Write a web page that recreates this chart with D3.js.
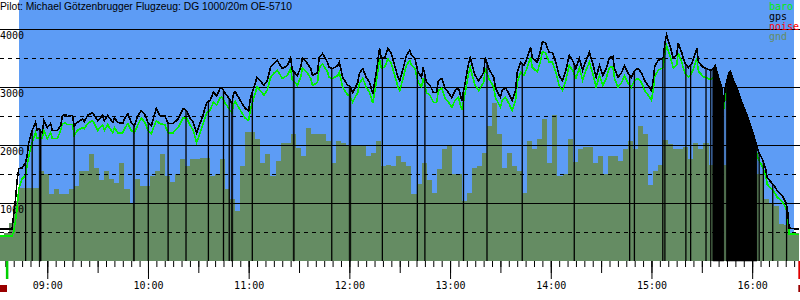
<!DOCTYPE html>
<html>
<head>
<meta charset="utf-8">
<script src="https://cdn.jsdelivr.net/npm/d3@7/dist/d3.min.js"></script>
<style>
  body { margin: 0; background: #fff; }
  svg { display: block; }
</style>
</head>
<body>
<div id="chart"></div>
<script>
// barogramm - Pilot / Flugzeug
const titel = 'Pilot: Michael Götzenbrugger Flugzeug: DG 1000/20m OE-5710';
const legende = ['baro', 'gps', 'noise', 'gnd'];

// zeitbereich des logs, flug (himmel) und marker
const logStart = '08:31:50', logEnde = '16:28:30';
const flugStart = '08:43:10', flugEnde = '16:24:55';
const startMarke = '08:35:20', endMarke = '16:27:30';

// y achse (m)
const hoehenLinien = [500, 1000, 1500, 2000, 2500, 3000, 3500, 4000];
const hoehenLabels = [1000, 2000, 3000, 4000];

// gps fixe
const gpsZeit = ['08:32','08:39','08:40','08:41','08:42','08:43','08:45','08:47','08:48','08:49','08:51','08:53','08:54','08:55','08:57','08:58',
  '09:00','09:02','09:03','09:06','09:08','09:09','09:11','09:12','09:15','09:16','09:18','09:21','09:22','09:24','09:27','09:28','09:30','09:33','09:34','09:36','09:39','09:40','09:42','09:45','09:46','09:48','09:50','09:52','09:54','09:56','09:58',
  '10:00','10:02','10:04','10:05','10:07','10:10','10:12','10:15','10:18','10:21','10:23','10:25','10:27','10:29','10:31','10:33','10:35','10:37','10:39','10:41','10:43','10:44','10:46','10:48','10:50','10:51','10:52','10:54','10:56','10:58',
  '11:00','11:01','11:03','11:05','11:07','11:09','11:11','11:13','11:15','11:17','11:19','11:20','11:23','11:25','11:26','11:29','11:31','11:32','11:35','11:37','11:38','11:41','11:42','11:44','11:47','11:48','11:50','11:53','11:54','11:56','11:59',
  '12:00','12:02','12:05','12:06','12:08','12:10','12:12','12:14','12:16','12:18','12:19','12:21','12:23','12:25','12:27','12:29','12:30','12:32','12:34','12:36','12:37','12:39','12:41','12:43','12:44','12:46','12:48','12:50','12:52','12:53','12:55','12:57','12:59',
  '13:01','13:03','13:05','13:07','13:09','13:11','13:12','13:14','13:15','13:17','13:20','13:21','13:23','13:26','13:27','13:30','13:31','13:33','13:35','13:37','13:39','13:40','13:42','13:44','13:46','13:48','13:49','13:52','13:54','13:55','13:57','13:59',
  '14:01','14:03','14:05','14:07','14:09','14:11','14:13','14:15','14:17','14:19','14:21','14:23','14:25','14:27','14:29','14:31','14:33','14:35','14:37','14:38','14:40','14:42','14:44','14:46','14:48','14:50','14:52','14:54','14:56','14:58',
  '15:00','15:01','15:02','15:04','15:07','15:08','15:09','15:11','15:13','15:15','15:16','15:18','15:20','15:22','15:24','15:26','15:27','15:28','15:31','15:33','15:35','15:37','15:38','15:40','15:42','15:43','15:44','15:46','15:47','15:49','15:51','15:53','15:55','15:57','15:59',
  '16:01','16:03','16:04','16:06','16:08','16:09','16:12','16:14','16:15','16:18','16:20','16:21','16:22','16:28'];
const gpsHoehe = [540,540,800,1030,1380,1590,1600,1690,1810,2040,2250,2390,2250,2280,2210,2420,
  2300,2370,2250,2250,2330,2510,2520,2490,2510,2330,2390,2450,2400,2510,2560,2510,2420,2510,2420,2510,2390,2470,2390,2370,2450,2540,2390,2330,2510,2590,2540,
  2390,2330,2540,2630,2510,2510,2370,2370,2450,2630,2590,2470,2390,2210,2370,2540,2730,2770,2910,2850,2980,2990,2890,2820,2720,2890,2920,2820,2720,2630,
  2590,2800,2990,3170,3110,3030,3110,3340,3410,3460,3370,3320,3370,3500,3290,3200,3340,3510,3410,3320,3200,3250,3510,3580,3430,3340,3320,3370,3430,3170,3030,
  3030,2910,3080,3240,3320,3170,3080,2890,3250,3670,3500,3510,3670,3580,3370,3170,3110,3320,3550,3640,3550,3500,3250,3170,3340,3080,3030,2910,2910,3110,3150,2980,2910,
  2820,2940,2990,2770,3080,3410,3510,3290,3200,3110,3250,3510,3320,3170,2990,2820,2940,2990,2890,2770,2940,3250,3430,3370,3510,3690,3510,3430,3640,3790,3760,3600,
  3600,3430,3200,3110,3290,3550,3460,3320,3500,3290,3460,3600,3410,3170,3370,3200,3320,3510,3530,3320,3170,3240,3370,3240,3170,3290,3320,3250,3110,3030,
  2940,3110,3370,3460,3510,3760,3900,3720,3500,3550,3760,3600,3410,3340,3410,3580,3670,3430,3340,3320,3290,3320,3370,3170,2980,2730,2990,3240,3270,3110,2980,2800,2650,2510,2330,
  2160,1950,1860,1760,1590,1430,1330,1260,1200,1120,1000,890,560,540];
// baro hoehe zu denselben zeiten
const baroHoehe = [420,420,500,680,890,1240,1410,1470,1640,1810,2040,2210,2110,2130,2120,2250,
  2110,2210,2110,2110,2250,2370,2380,2350,2350,2160,2250,2300,2280,2370,2420,2370,2250,2350,2250,2350,2210,2300,2210,2210,2280,2370,2250,2210,2350,2460,2400,
  2250,2190,2350,2420,2370,2350,2210,2210,2300,2470,2460,2350,2250,2040,2210,2380,2560,2600,2740,2690,2820,2830,2720,2640,2550,2710,2750,2650,2550,2460,
  2420,2610,2810,3000,2940,2860,2940,3160,3240,3290,3200,3150,3200,3320,3130,3030,3170,3330,3240,3150,3030,3080,3330,3400,3260,3170,3150,3200,3260,3000,2860,
  2860,2740,2910,3070,3150,3000,2910,2720,3080,3480,3330,3340,3490,3410,3200,3000,2940,3150,3380,3460,3380,3330,3080,3000,3160,2900,2860,2740,2730,2940,2980,2810,2740,
  2650,2770,2820,2600,2900,3230,3340,3120,3030,2940,3080,3330,3150,3000,2820,2650,2770,2820,2720,2600,2760,3070,3260,3200,3340,3510,3340,3260,3460,3610,3590,3430,
  3430,3260,3030,2940,3120,3380,3290,3150,3330,3120,3290,3430,3240,3000,3200,3030,3150,3340,3360,3150,3000,3070,3200,3070,3000,3120,3150,3080,2940,2860,
  2770,2940,3190,3290,3340,3580,3720,3550,3330,3380,3590,3430,3240,3170,3240,3410,3500,3270,3180,3160,3130,3160,3210,3010,2820,2620,2840,3090,3120,2970,2840,2660,2510,2370,2200,
  2030,1820,1730,1630,1470,1320,1220,1150,1090,1020,910,800,460,450];

// gelaende unter dem flugweg, alle 3 min ab gndStart
const gndStart = '08:31';
const gndSchritt = 3;
const gndHoehe = [420,470,650,1030,1260,1260,1260,1260,1550,1500,1150,1240,1150,1150,1240,1290,1550,1550,1850,1600,
  1400,1550,1410,1340,1690,1240,1000,1410,1290,1290,1470,1550,1850,1470,1350,1500,1760,1640,1760,1760,
  1780,1780,1470,1500,1760,1240,1070,850,1640,2230,2230,2110,1690,1850,1470,1730,2040,2040,2190,1950,
  1810,2300,2190,2190,2190,2070,1690,2060,2040,1980,1990,1990,1990,1800,1860,2070,1640,1660,1640,1810,
  1700,1640,1150,1320,1690,1400,1170,1590,1930,1990,1500,1500,1030,1170,1600,1640,1860,2330,2730,2190,
  1600,1860,1640,1550,1170,2070,1930,2110,2450,1680,2510,1470,1500,2110,1700,1930,1960,1960,1690,1810,
  1500,1810,1810,1730,1930,2060,1930,2330,2190,1300,1550,1650,2090,2020,1930,1930,1960,1760,2040,1930,
  2040,1660,1660,1660,1660,1600,1550,1500,1450,1400,1500,1500,1070,1000,940,630,610,480,480];

// senkrechte marken bis zur gps linie
const markenZeit = ['08:47:06','08:51:00','09:16:00','10:00:10','10:12:00','10:22:40','10:36:00','10:45:00','10:48:25','11:02:10',
  '11:49:30','12:19:40','12:40:30','12:45:00','13:08:00','13:22:00','13:43:00','14:14:00','14:47:00','14:49:50',
  '15:06:45','15:08:00','15:20:30','15:23:20','15:32:30','15:35:20','16:04:10','16:06:40','16:12:15','16:20:30'];
const markenVon = ['08:55:15','09:51:20','10:49:40','11:26:35','11:59:55','15:36:30','15:44:30'];
const markenBis = ['08:56:20','09:51:55','10:50:30','11:27:10','12:00:50','15:43:10','16:02:50'];

/////////////////////////////
const width = 800, height = 300;
const unten = 261; // unterkante diagramm
const himmel = '#5d9cf5';
const gndFarbe = '#658c63';
const baroFarbe = '#00f000';

const parseT = s => d3.timeParse(s.length > 5 ? '%H:%M:%S' : '%H:%M')(s);

const x = d3.scaleTime()
  .domain([parseT(logStart), parseT(logEnde)])
  .range([0, width]);
const y = d3.scaleLinear()
  .domain([0, 4500])
  .range([260.5, 0.4]);

const gps = gpsZeit.map((t, i) => ({t: parseT(t), alt: gpsHoehe[i], baro: baroHoehe[i]}));
const gpsBei = d3.scaleLinear().domain(gps.map(d => +d.t)).range(gps.map(d => d.alt)).clamp(true);

const g0 = parseT(gndStart);
const gnd = gndHoehe.map((a, i) => ({t: d3.timeMinute.offset(g0, i * gndSchritt), alt: a}));
gnd.push({t: d3.timeMinute.offset(g0, gndHoehe.length * gndSchritt), alt: gndHoehe[gndHoehe.length - 1]});

const svg = d3.select('#chart').append('svg')
  .attr('width', width).attr('height', height);

svg.append('rect').attr('width', width).attr('height', height).attr('fill', '#fff');

// himmel waehrend des fluges
svg.append('rect')
  .attr('x', x(parseT(flugStart)))
  .attr('y', 0)
  .attr('width', x(parseT(flugEnde)) - x(parseT(flugStart)))
  .attr('height', unten)
  .attr('fill', himmel);

// gelaende
svg.append('path')
  .datum(gnd)
  .attr('fill', gndFarbe)
  .attr('shape-rendering', 'crispEdges')
  .attr('d', d3.area().curve(d3.curveStepAfter)
    .x(d => x(d.t)).y0(unten).y1(d => y(d.alt)));

// gitter
svg.append('g').selectAll('line')
  .data(hoehenLinien)
  .join('line')
    .attr('x1', 0).attr('x2', width)
    .attr('y1', d => Math.round(y(d)) + 0.5)
    .attr('y2', d => Math.round(y(d)) + 0.5)
    .attr('stroke', '#000')
    .attr('stroke-width', 1)
    .attr('stroke-dasharray', d => d % 1000 ? '4,4' : null);

svg.append('g').selectAll('text')
  .data(hoehenLabels)
  .join('text')
    .attr('x', 0)
    .attr('y', d => Math.round(y(d)) + 10)
    .style('font', '10px "DejaVu Sans Mono", monospace')
    .attr('fill', '#000')
    .text(d => d);

// baro
svg.append('path')
  .datum(gps)
  .attr('fill', 'none')
  .attr('stroke', baroFarbe)
  .attr('stroke-width', 1.6)
  .attr('shape-rendering', 'crispEdges')
  .attr('d', d3.line().x(d => x(d.t)).y(d => y(d.baro)));

// marken
const marken = svg.append('g');
marken.selectAll('line')
  .data(markenZeit.map(parseT))
  .join('line')
    .attr('x1', d => x(d)).attr('x2', d => x(d))
    .attr('y1', unten)
    .attr('y2', d => y(gpsBei(+d)))
    .attr('stroke', '#000')
    .attr('stroke-width', 1.3);

const flaeche = d3.area().x(d => x(d.t)).y0(unten).y1(d => y(d.alt));
markenVon.forEach((v, i) => {
  const t0 = parseT(v), t1 = parseT(markenBis[i]);
  const pts = [{t: t0, alt: gpsBei(+t0)}]
    .concat(gps.filter(d => d.t > t0 && d.t < t1))
    .concat([{t: t1, alt: gpsBei(+t1)}]);
  marken.append('path').datum(pts).attr('fill', '#000')
    .attr('stroke', '#000').attr('stroke-width', 0.6)
    .attr('d', flaeche);
});

// gps
svg.append('path')
  .datum(gps)
  .attr('fill', 'none')
  .attr('stroke', '#000')
  .attr('stroke-width', 1.6)
  .attr('shape-rendering', 'crispEdges')
  .attr('d', d3.line().x(d => x(d.t)).y(d => y(d.alt)));

// titel
svg.append('text')
  .attr('x', 0).attr('y', 10)
  .style('font', '10.3px "Liberation Sans", Arial, sans-serif')
  .attr('fill', '#000')
  .text(titel);

// legende
const legFarben = [baroFarbe, '#000', '#ff0000', gndFarbe];
svg.append('g').selectAll('text')
  .data(legende)
  .join('text')
    .attr('x', 769)
    .attr('y', (d, i) => 10 + i * 10)
    .style('font', '10px "DejaVu Sans Mono", monospace')
    .attr('fill', (d, i) => legFarben[i])
    .text(d => d);

// zeitachse
const achse = (schritt, laenge, format) => svg.append('g')
  .attr('transform', `translate(0,${unten})`)
  .call(d3.axisBottom(x).ticks(schritt).tickSize(laenge).tickFormat(format))
  .call(g => g.select('.domain').remove())
  .call(g => g.selectAll('text').style('font', '10px "DejaVu Sans Mono", monospace').attr('fill', '#000'));

achse(d3.timeMinute.every(5), 6, '');
achse(d3.timeMinute.every(30), 12, '');
achse(d3.timeHour.every(1), 18, d3.timeFormat('%H:%M'));

// start / end marken
svg.append('rect')
  .attr('x', x(parseT(startMarke))).attr('y', unten)
  .attr('width', 2.5).attr('height', 18)
  .attr('fill', '#00d000');
svg.append('rect')
  .attr('x', x(parseT(endMarke))).attr('y', unten)
  .attr('width', 2.5).attr('height', 18)
  .attr('fill', '#e00000');
svg.append('rect')
  .attr('x', x(parseT(logStart))).attr('y', 285)
  .attr('width', 7).attr('height', 7)
  .attr('fill', '#990000');
svg.append('rect')
  .attr('x', x(parseT(endMarke))).attr('y', 285)
  .attr('width', 7).attr('height', 7)
  .attr('fill', '#990000');
</script>
</body>
</html>
